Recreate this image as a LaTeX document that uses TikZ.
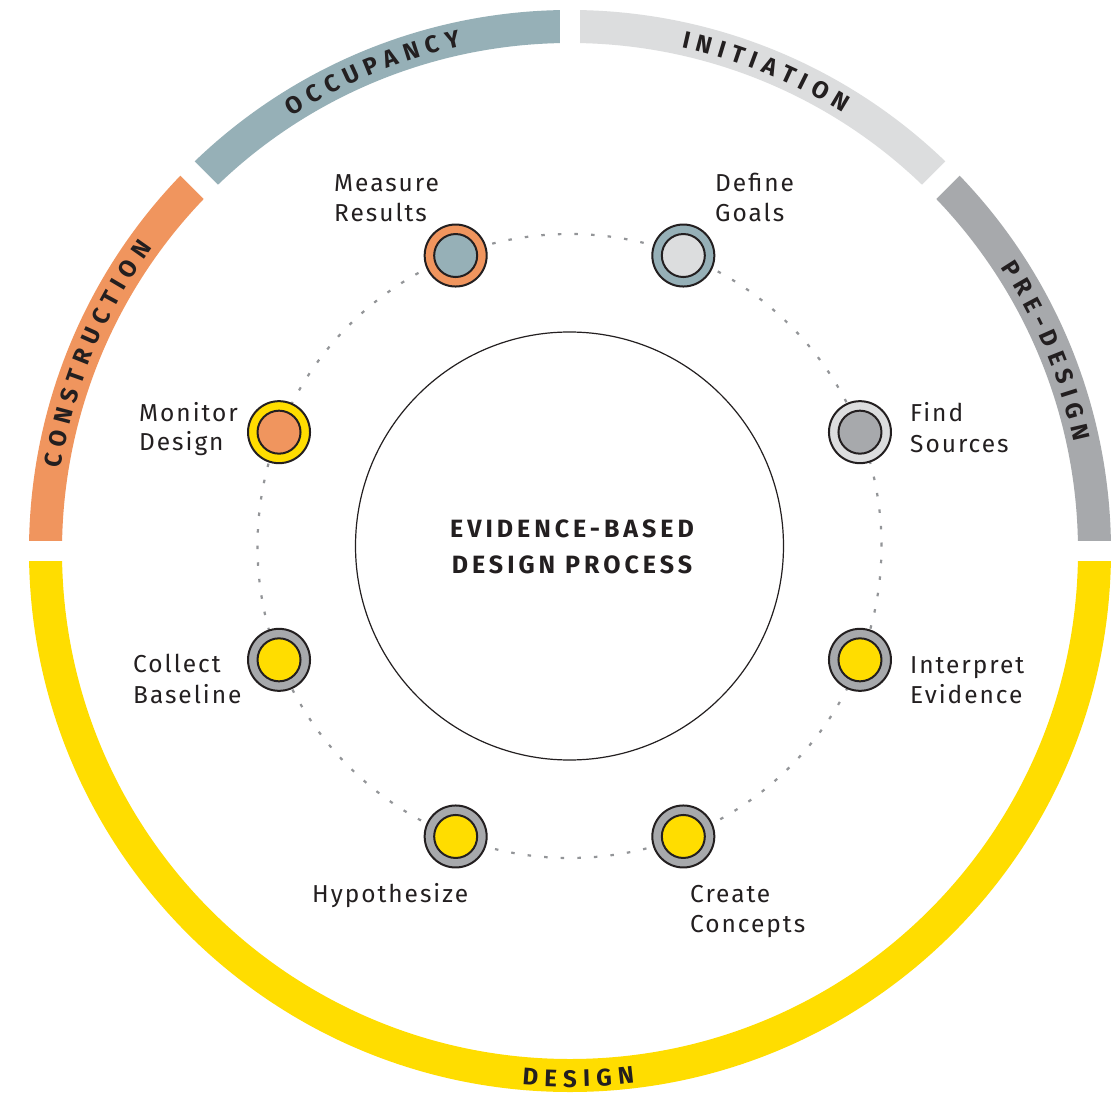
\documentclass[tikz,border=0pt]{standalone}
\usepackage{fontspec}
\usetikzlibrary{calc}
\setmainfont{Fira Sans}
\definecolor{ink}{HTML}{231F20}
\definecolor{cYellow}{HTML}{FFDD00}
\definecolor{cOrange}{HTML}{F0955E}
\definecolor{cBlue}{HTML}{96B0B7}
\definecolor{cLight}{HTML}{DCDDDE}
\definecolor{cMid}{HTML}{A7A9AC}
\definecolor{cDot}{HTML}{939598}
\newcommand\lblfont{\fontsize{24.5}{30}\selectfont\addfontfeatures{LetterSpace=8}}
\newcommand\ringfont{\fontsize{24}{24}\selectfont\bfseries}
\newcommand\titlefont{\fontsize{25}{36}\selectfont\bfseries\addfontfeatures{LetterSpace=16}}
\newlength\ringlw
\newcommand\measureletters[1]{%
  \foreach \rl in {#1}{%
    \settowidth\ringlw{\ringfont\rl}%
    \expandafter\xdef\csname rw@\rl\endcsname{\the\ringlw}%
  }%
}
% #1 baseline radius, #2 centre angle, #3 extra spacing, #4 letters, #5 direction, #6 name prefix
\newcommand\ringtext[6]{%
  \gdef\ringtot{0}%
  \foreach \rl in {#4}{%
    \edef\rw{\csname rw@\rl\endcsname}%
    \pgfmathparse{\ringtot+\rw+#3}%
    \xdef\ringtot{\pgfmathresult}%
  }%
  \pgfmathparse{\ringtot-#3}\xdef\ringtot{\pgfmathresult}%
  \gdef\ringacc{0}%
  \foreach \rl [count=\ri] in {#4}{%
    \edef\rw{\csname rw@\rl\endcsname}%
    \pgfmathsetmacro\ringang{#2-(#5)*(\ringacc+0.5*\rw-0.5*\ringtot)/(#1)*180/pi}%
    \node[ringletter, rotate=\ringang-(#5)*90] (#6\ri) at (\ringang:#1) {\rl};
    \pgfmathparse{\ringacc+\rw+#3}\xdef\ringacc{\pgfmathresult}%
  }%
}
\tikzset{
  band/.style={line width=33pt},
  gapline/.style={white, line width=20pt},
  ringletter/.style={anchor=base, inner sep=0pt, font=\ringfont, text=ink},
  lbl/.style={anchor=base west, inner sep=0pt, font=\lblfont, text=ink},
  title/.style={anchor=base, inner sep=0pt, font=\titlefont, text=ink},
  dotline/.style={cDot, line width=2.2pt, dash pattern=on 3.5pt off 13.11pt},
  stage/.style={circle, draw=ink, line width=2pt, minimum size=62pt, inner sep=0pt},
  core/.style={circle, draw=ink, line width=2pt, minimum size=43pt, inner sep=0pt},
}
\begin{document}
\measureletters{A,C,D,E,G,I,N,O,P,R,S,T,U,Y,-}%
\begin{tikzpicture}[x=1pt,y=1pt]
\useasboundingbox (-570,-544) rectangle (543,551);
\fill[white] (-570,-544) rectangle (543,551);
% outer ring
\draw[band, cYellow] (180:524.5) arc[start angle=180, end angle=360, radius=524.5];
\draw[band, cMid] (0:524.5) arc[start angle=0, end angle=45, radius=524.5];
\draw[band, cLight] (45:524.5) arc[start angle=45, end angle=90, radius=524.5];
\draw[band, cBlue] (90:524.5) arc[start angle=90, end angle=135, radius=524.5];
\draw[band, cOrange] (135:524.5) arc[start angle=135, end angle=180, radius=524.5];
\foreach \a in {0,45,90,135,180} \draw[gapline] (\a:480) -- (\a:560);
% ring labels
\ringtext{516}{112.4}{6.5}{O,C,C,U,P,A,N,C,Y}{1}{occ}
\ringtext{516}{67.8}{6.5}{I,N,I,T,I,A,T,I,O,N}{1}{ini}
\ringtext{516}{22.8}{6.5}{P,R,E,-,D,E,S,I,G,N}{1}{pre}
\ringtext{516}{157.4}{6.5}{C,O,N,S,T,R,U,C,T,I,O,N}{1}{con}
\ringtext{536}{270.9}{6.5}{D,E,S,I,G,N}{-1}{des}
% inner
\coordinate (ctr) at (-0.5,5);
\draw[dotline] (ctr) circle[radius=312];
\node[circle, draw=ink, line width=1.2pt, minimum size=428pt, inner sep=0pt] (hub) at (ctr) {};
\node[title] (t1) at (2,14) {EVIDENCE-BASED};
\node[title] (t2) at (2,-22) {DESIGN PROCESS};
% stages
\node[stage, fill=cOrange] (mr) at ($(ctr)+(111.4:312)$) {};
\node[core, fill=cBlue] (mri) at (mr) {};
\node[stage, fill=cBlue] (dg) at ($(ctr)+(68.6:312)$) {};
\node[core, fill=cLight] (dgi) at (dg) {};
\node[stage, fill=cLight] (fs) at ($(ctr)+(21.4:312)$) {};
\node[core, fill=cMid] (fsi) at (fs) {};
\node[stage, fill=cMid] (ie) at ($(ctr)+(-21.4:312)$) {};
\node[core, fill=cYellow] (iei) at (ie) {};
\node[stage, fill=cMid] (cc) at ($(ctr)+(-68.6:312)$) {};
\node[core, fill=cYellow] (cci) at (cc) {};
\node[stage, fill=cMid] (hy) at ($(ctr)+(-111.4:312)$) {};
\node[core, fill=cYellow] (hyi) at (hy) {};
\node[stage, fill=cMid] (cb) at ($(ctr)+(-158.6:312)$) {};
\node[core, fill=cYellow] (cbi) at (cb) {};
\node[stage, fill=cYellow] (md) at ($(ctr)+(158.6:312)$) {};
\node[core, fill=cOrange] (mdi) at (md) {};
% labels
\node[lbl] (mr1) at (-236,359) {Measure};
\node[lbl] (mr2) at (-236,329) {Results};
\node[lbl] (dg1) at (145,359) {Define};
\node[lbl] (dg2) at (145,329) {Goals};
\node[lbl] (fs1) at (340,129) {Find};
\node[lbl] (fs2) at (340,99) {Sources};
\node[lbl] (ie1) at (340,-122) {Interpret};
\node[lbl] (ie2) at (340,-152) {Evidence};
\node[lbl] (cc1) at (120,-351) {Create};
\node[lbl] (cc2) at (120,-381) {Concepts};
\node[lbl] (hy1) at (-258,-351) {Hypothesize};
\node[lbl] (cb1) at (-437,-121) {Collect};
\node[lbl] (cb2) at (-437,-152) {Baseline};
\node[lbl] (md1) at (-431,129) {Monitor};
\node[lbl] (md2) at (-431,100) {Design};
\end{tikzpicture}
\end{document}
